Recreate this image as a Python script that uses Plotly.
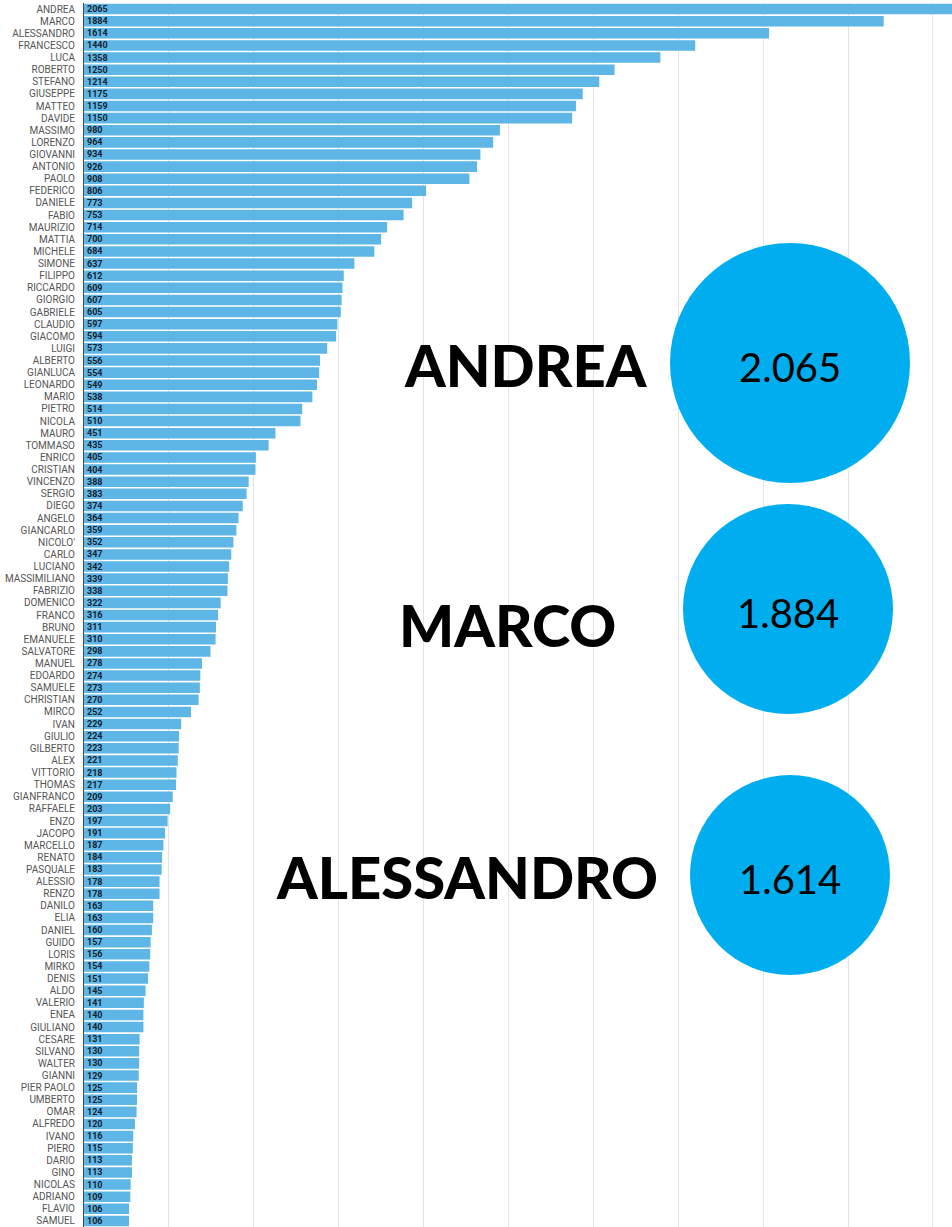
import plotly.graph_objects as go

# Most common male first names (counts)
names = [
    "ANDREA", "MARCO", "ALESSANDRO", "FRANCESCO", "LUCA", "ROBERTO", "STEFANO",
    "GIUSEPPE", "MATTEO", "DAVIDE", "MASSIMO", "LORENZO", "GIOVANNI", "ANTONIO",
    "PAOLO", "FEDERICO", "DANIELE", "FABIO", "MAURIZIO", "MATTIA", "MICHELE",
    "SIMONE", "FILIPPO", "RICCARDO", "GIORGIO", "GABRIELE", "CLAUDIO", "GIACOMO",
    "LUIGI", "ALBERTO", "GIANLUCA", "LEONARDO", "MARIO", "PIETRO", "NICOLA",
    "MAURO", "TOMMASO", "ENRICO", "CRISTIAN", "VINCENZO", "SERGIO", "DIEGO",
    "ANGELO", "GIANCARLO", "NICOLO'", "CARLO", "LUCIANO", "MASSIMILIANO",
    "FABRIZIO", "DOMENICO", "FRANCO", "BRUNO", "EMANUELE", "SALVATORE", "MANUEL",
    "EDOARDO", "SAMUELE", "CHRISTIAN", "MIRCO", "IVAN", "GIULIO", "GILBERTO",
    "ALEX", "VITTORIO", "THOMAS", "GIANFRANCO", "RAFFAELE", "ENZO", "JACOPO",
    "MARCELLO", "RENATO", "PASQUALE", "ALESSIO", "RENZO", "DANILO", "ELIA",
    "DANIEL", "GUIDO", "LORIS", "MIRKO", "DENIS", "ALDO", "VALERIO", "ENEA",
    "GIULIANO", "CESARE", "SILVANO", "WALTER", "GIANNI", "PIER PAOLO", "UMBERTO",
    "OMAR", "ALFREDO", "IVANO", "PIERO", "DARIO", "GINO", "NICOLAS", "ADRIANO",
    "FLAVIO", "SAMUEL",
]
counts = [
    2065, 1884, 1614, 1440, 1358, 1250, 1214,
    1175, 1159, 1150, 980, 964, 934, 926,
    908, 806, 773, 753, 714, 700, 684,
    637, 612, 609, 607, 605, 597, 594,
    573, 556, 554, 549, 538, 514, 510,
    451, 435, 405, 404, 388, 383, 374,
    364, 359, 352, 347, 342, 339,
    338, 322, 316, 311, 310, 298, 278,
    274, 273, 270, 252, 229, 224, 223,
    221, 218, 217, 209, 203, 197, 191,
    187, 184, 183, 178, 178, 163, 163,
    160, 157, 156, 154, 151, 145, 141, 140,
    140, 131, 130, 130, 129, 125, 125,
    124, 120, 116, 115, 113, 113, 110, 109,
    106, 106,
]

W, H = 952, 1227
ML, MT = 84, 3
PW, PH = W - ML, H - MT

BAR_COLOR = "#5db6e6"
BUBBLE_COLOR = "#00aeef"

fig = go.Figure(
    go.Bar(
        x=counts,
        y=names,
        orientation="h",
        marker=dict(color=BAR_COLOR, line=dict(width=0)),
        text=[str(c) for c in counts],
        textposition="inside",
        insidetextanchor="start",
        textangle=0,
        constraintext="none",
        textfont=dict(family="Roboto", size=9, color="#16222e", weight="bold"),
        cliponaxis=True,
    )
)

fig.update_layout(
    width=W,
    height=H,
    margin=dict(l=ML, r=0, t=MT, b=0, autoexpand=False),
    paper_bgcolor="white",
    plot_bgcolor="white",
    bargap=0.13,
    showlegend=False,
    xaxis=dict(
        range=[0, 2045],
        dtick=200,
        showgrid=True,
        gridcolor="#e3e3e3",
        gridwidth=1,
        zeroline=False,
        showticklabels=False,
        showline=False,
        fixedrange=True,
    ),
    yaxis=dict(
        categoryorder="array",
        categoryarray=names,
        autorange="reversed",
        showline=True,
        linecolor="#4a4a4a",
        linewidth=1,
        ticks="",
        ticklabelstandoff=6,
        tickfont=dict(family="Roboto", size=10, color="#555555"),
        showgrid=False,
        automargin=False,
    ),
)


def px_to_paper(px, py):
    return (px - ML) / PW, 1 - (py - MT) / PH


def fmt_it(v):
    return f"{v:,}".replace(",", ".")


# Top three names: big label on the left, count inside a bubble on the right
podium = [
    # (label centre x, label centre y, bubble centre x, bubble centre y, radius)
    (526, 364, 790, 363, 120),
    (507, 624, 788, 609, 105),
    (467, 876, 790, 875, 100),
]
for i, (lx, ly, bx, by, r) in enumerate(podium):
    ax, ay = px_to_paper(bx, by)
    fig.add_shape(
        type="circle",
        xref="paper", yref="paper",
        xsizemode="pixel", ysizemode="pixel",
        xanchor=ax, yanchor=ay,
        x0=-r, x1=r, y0=-r, y1=r,
        fillcolor=BUBBLE_COLOR,
        line=dict(width=0),
        layer="above",
    )
    tx, ty = px_to_paper(lx, ly)
    fig.add_annotation(
        x=tx, y=ty, xref="paper", yref="paper",
        text=names[i],
        showarrow=False,
        xanchor="center", yanchor="middle",
        font=dict(family="Lato", size=58, color="#000000", weight=900),
    )
    nx, ny = px_to_paper(bx, by + 4)
    fig.add_annotation(
        x=nx, y=ny, xref="paper", yref="paper",
        text=fmt_it(counts[i]),
        showarrow=False,
        xanchor="center", yanchor="middle",
        font=dict(family="Lato", size=40, color="#000000"),
    )

fig.write_html("out.html")
